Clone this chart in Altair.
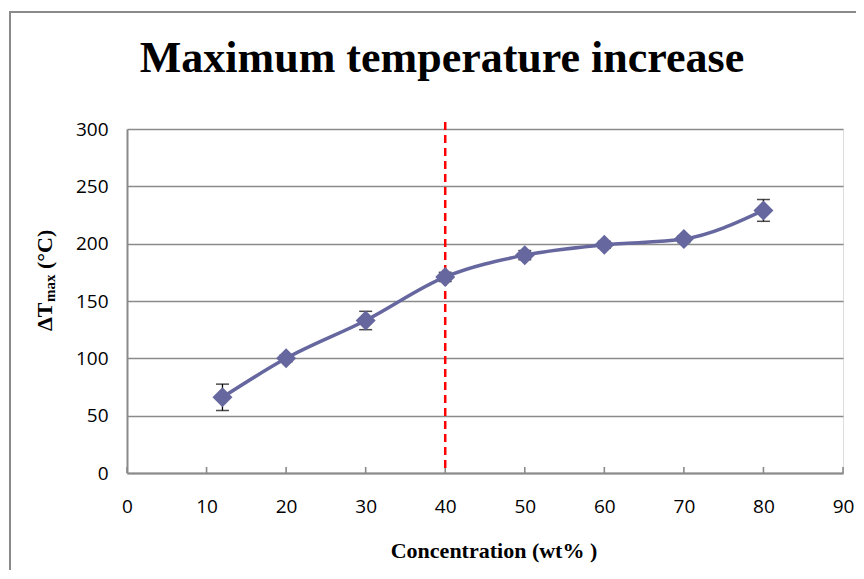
import altair as alt
import pandas as pd

# ---- data ----
conc = [12, 20, 30, 40, 50, 60, 70, 80]
dtmax = [66, 100, 133, 171, 190, 199, 204, 229]
err = [11.5, 3, 8, 4, 4, 3, 3, 9.5]
x_ticks = [0, 10, 20, 30, 40, 50, 60, 70, 80, 90]
y_ticks = [0, 50, 100, 150, 200, 250, 300]
threshold = [40]

title_text = "Maximum temperature increase"
x_title = "Concentration (wt% )"

df = pd.DataFrame({
    "conc": conc,
    "dt": dtmax,
    "lo": [d - e for d, e in zip(dtmax, err)],
    "hi": [d + e for d, e in zip(dtmax, err)],
})
ticks_df = pd.DataFrame({"conc": x_ticks})
thr_df = pd.DataFrame({"conc": threshold})
one = pd.DataFrame({"a": [0]})

W, H = 716, 344
GRID = "#8a8a8a"
LINE = "#6767A0"
NUM_FONT = "Open Sans"
SERIF = "Liberation Serif"

xs = alt.Scale(domain=[0, 90], nice=False, zero=False)
ys = alt.Scale(domain=[0, 300], nice=False)

x_axis = alt.Axis(values=x_ticks, title=None, grid=False, ticks=False,
                  domainColor=GRID, domainWidth=2, labelFont=NUM_FONT,
                  labelFontSize=19, labelColor="black", labelPadding=24,
                  labelFlush=False)
y_axis = alt.Axis(values=y_ticks, title=None, grid=True, gridColor=GRID,
                  gridWidth=1.6, ticks=False, domainColor=GRID, domainWidth=2,
                  labelFont=NUM_FONT, labelFontSize=19, labelColor="black",
                  labelPadding=19, labelFlush=False)

X = alt.X("conc:Q", scale=xs, axis=x_axis)

# chart-area frame: only left and top edges fall inside the picture
frame_top = alt.Chart(one).mark_rule(color="#8a8a8a", strokeWidth=2).encode(
    x=alt.value(-117), x2=alt.value(740), y=alt.value(-117))
frame_left = alt.Chart(one).mark_rule(color="#8a8a8a", strokeWidth=2).encode(
    x=alt.value(-117), y=alt.value(-118), y2=alt.value(450))

base = alt.Chart(df)

grid_layer = base.mark_point(opacity=0).encode(x=X, y=alt.Y("dt:Q", scale=ys, axis=y_axis))

xticks = alt.Chart(ticks_df).mark_rule(color=GRID, strokeWidth=1.6).encode(
    x=X, y=alt.value(H), y2=alt.value(H - 6))

thr = alt.Chart(thr_df).mark_rule(color="#FF0000", strokeWidth=2.5, strokeDash=[8, 5]).encode(
    x=X, y=alt.value(-7), y2=alt.value(H))

err_rule = base.mark_rule(color="black", strokeWidth=1.3).encode(
    x=X, y=alt.Y("lo:Q", scale=ys), y2="hi:Q")
cap_lo = base.mark_tick(color="black", thickness=1.5, size=13, orient="horizontal").encode(
    x=X, y=alt.Y("lo:Q", scale=ys))
cap_hi = base.mark_tick(color="black", thickness=1.5, size=13, orient="horizontal").encode(
    x=X, y=alt.Y("hi:Q", scale=ys))

line = base.mark_line(interpolate="monotone", color=LINE, strokeWidth=3.5).encode(
    x=X, y=alt.Y("dt:Q", scale=ys))
pts = base.mark_point(shape="diamond", filled=True, size=400, color=LINE, opacity=1).encode(
    x=X, y=alt.Y("dt:Q", scale=ys))

title = alt.Chart(one).mark_text(text=title_text, font=SERIF, fontSize=44,
                                 fontWeight="bold", align="center",
                                 baseline="alphabetic", color="black").encode(
    x=alt.value(315), y=alt.value(-57))
xtitle = alt.Chart(one).mark_text(text=x_title, font=SERIF, fontSize=22,
                                  fontWeight="bold", align="center",
                                  baseline="alphabetic", color="black").encode(
    x=alt.value(367), y=alt.value(429))
yt1 = alt.Chart(one).mark_text(text="ΔT", font=SERIF, fontSize=22, fontWeight="bold",
                               angle=270, align="left", baseline="alphabetic",
                               color="black").encode(x=alt.value(-75), y=alt.value(202))
yt2 = alt.Chart(one).mark_text(text="max", font=SERIF, fontSize=15, fontWeight="bold",
                               angle=270, align="left", baseline="alphabetic",
                               color="black").encode(x=alt.value(-72), y=alt.value(173))
yt3 = alt.Chart(one).mark_text(text="(°C)", font=SERIF, fontSize=22, fontWeight="bold",
                               angle=270, align="left", baseline="alphabetic",
                               color="black").encode(x=alt.value(-75), y=alt.value(140))

chart = alt.layer(
    frame_top, frame_left, grid_layer, xticks, thr, err_rule, cap_lo, cap_hi,
    line, pts, title, xtitle, yt1, yt2, yt3
).properties(
    width=W, height=H,
    padding={"left": 119, "top": 121, "right": 13, "bottom": 97},
    autosize=alt.AutoSizeParams(type="none"),
).configure_view(stroke=None).configure(background="white")

chart.save("out.html", embed_options={"renderer": "svg", "actions": False})
